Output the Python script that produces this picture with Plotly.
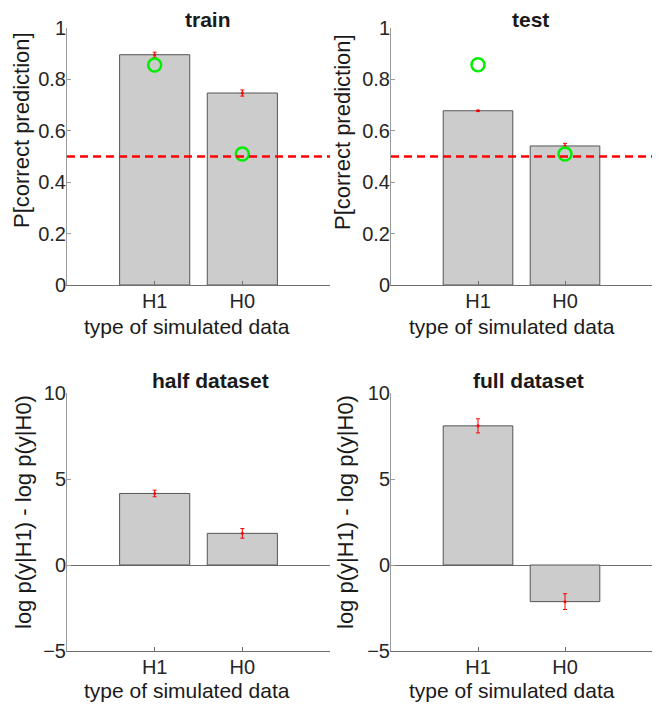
import plotly.graph_objects as go
from plotly.subplots import make_subplots

# data
hypotheses = ["H1", "H0"]
chance_level = 0.5

train_acc = [0.896, 0.747]
train_err = [0.010, 0.012]
train_target = [0.856, 0.510]

test_acc = [0.678, 0.541]
test_err = [0.002, 0.010]
test_target = [0.857, 0.510]

half_logbf = [4.16, 1.84]
half_err = [0.19, 0.28]

full_logbf = [8.09, -2.13]
full_err = [0.41, 0.46]

acc_ticks = [0, 0.2, 0.4, 0.6, 0.8, 1]
bf_ticks = [-5, 0, 5, 10]

# page body adds an 8px margin, so the figure is shrunk to fit the window
PAD = 8
W, H = 660 - 2 * PAD, 711 - 2 * PAD
FONT = "Liberation Sans"
BAR_FILL = "#cccccc"
BAR_EDGE = "#555555"


def px(x):
    return (x - PAD) / W


def py(y):
    return 1 - (y - PAD) / H


fig = make_subplots(rows=2, cols=2)


def add_panel(row, col, vals, errs, targets=None):
    fig.add_trace(go.Bar(
        x=hypotheses, y=vals,
        marker=dict(color=BAR_FILL, line=dict(color=BAR_EDGE, width=1)),
        showlegend=False, hoverinfo="skip",
    ), row=row, col=col)
    fig.add_trace(go.Scatter(
        x=hypotheses, y=vals, mode="markers",
        marker=dict(color="#ff0000", size=3),
        error_y=dict(type="data", array=errs, color="#ff0000", thickness=1, width=2),
        showlegend=False, hoverinfo="skip",
    ), row=row, col=col)
    if targets is not None:
        fig.add_hline(y=chance_level, line=dict(color="#ff0000", width=2.5, dash="8px,5px"),
                      row=row, col=col)
        fig.add_trace(go.Scatter(
            x=hypotheses, y=targets, mode="markers",
            marker=dict(symbol="circle-open", color="#00ee00", size=13,
                        line=dict(color="#00ee00", width=2.5)),
            showlegend=False, hoverinfo="skip",
        ), row=row, col=col)


add_panel(1, 1, train_acc, train_err, train_target)
add_panel(1, 2, test_acc, test_err, test_target)
add_panel(2, 1, half_logbf, half_err)
add_panel(2, 2, full_logbf, full_err)

# pixel boxes of the four axes in the reference
col_px = [(67, 330), (391, 653)]
row_px = [(28, 285), (393, 651)]

axis_common = dict(
    showgrid=False, showline=True, ticks="inside", ticklen=4, automargin=False,
    tickfont=dict(family=FONT, size=20, color="#262626"),
)

for r in range(2):
    for c in range(2):
        n = r * 2 + c + 1
        sx = "" if n == 1 else str(n)
        x0, x1 = col_px[c]
        y0, y1 = row_px[r]
        fig.layout["xaxis" + sx].update(
            domain=[px(x0), min(px(x1), 1)], range=[-1, 2], linecolor="#6e6e6e",
            tickcolor="#6e6e6e", zeroline=False, ticklabelstandoff=-2, **axis_common)
        yargs = dict(domain=[py(y1), py(y0)], linecolor="#9a9a9a",
                     tickcolor="#9a9a9a", ticklabelstandoff=-4, **axis_common)
        if r == 0:
            yargs.update(range=[0, 1], tickvals=acc_ticks, zeroline=False)
        else:
            yargs.update(range=[-5, 10], tickvals=bf_ticks, zeroline=True,
                         zerolinecolor="#6e6e6e", zerolinewidth=1)
        fig.layout["yaxis" + sx].update(**yargs)

fig.update_layout(bargap=0.2)

anns = []


def label(text, x, y, size=22, angle=0, bold=False):
    anns.append(dict(
        text="<b>%s</b>" % text if bold else text,
        x=px(x), y=py(y), xref="paper", yref="paper",
        xanchor="center", yanchor="middle", showarrow=False, textangle=angle,
        font=dict(family=FONT, size=size, color="#1a1a1a"),
    ))


label("train", 208, 19, size=21, bold=True)
label("test", 530, 19, size=21, bold=True)
label("half dataset", 210, 381, size=21, bold=True)
label("full dataset", 528, 381, size=21, bold=True)

label("type of simulated data", 187, 326, size=21)
label("type of simulated data", 512, 326, size=21)
label("type of simulated data", 187, 690, size=21)
label("type of simulated data", 512, 690, size=21)

label("P[correct prediction]", 21, 130, angle=-90)
label("P[correct prediction]", 343, 132, angle=-90)
label("log p(y|H1) - log p(y|H0)", 23, 512, angle=-90)
label("log p(y|H1) - log p(y|H0)", 345, 512, angle=-90)

fig.update_layout(
    annotations=anns,
    width=W, height=H,
    margin=dict(l=0, r=0, t=0, b=0),
    paper_bgcolor="white", plot_bgcolor="white",
    font=dict(family=FONT),
)

fig.write_html("out.html")
